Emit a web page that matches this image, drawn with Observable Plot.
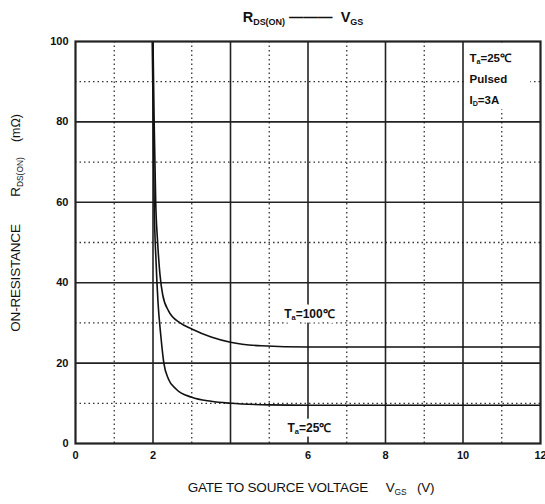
<!DOCTYPE html>
<html>
<head>
<meta charset="utf-8">
<script src="https://cdn.jsdelivr.net/npm/d3@7"></script>
<script src="https://cdn.jsdelivr.net/npm/@observablehq/plot@0.6"></script>
<style>
  html, body { margin: 0; padding: 0; background: #fff; }
  #chart svg { display: block; }
</style>
</head>
<body>
<div id="chart"></div>
<script>
// ---- data ----
const vgs25 = [1.98, 2.0, 2.03, 2.08, 2.13, 2.2, 2.28, 2.4, 2.6, 3.0, 3.5, 4.0, 5.0, 6.0, 8.0, 10.0, 12.0];
const r25   = [100, 85, 60, 45, 35, 27, 20, 16, 13.5, 11.5, 10.5, 10.0, 9.6, 9.5, 9.5, 9.5, 9.5];
const vgs100 = [2.0, 2.03, 2.07, 2.12, 2.18, 2.25, 2.4, 2.7, 3.0, 3.5, 4.0, 4.8, 6.0, 8.0, 10.0, 12.0];
const r100   = [100, 80, 60, 50, 42, 37, 33, 30, 28.5, 26.5, 25.2, 24.3, 24.0, 24.0, 24.0, 24.0];

const xTickValues = [0, 2, 6, 8, 10, 12];
const yTickValues = [0, 20, 40, 60, 80, 100];
const xMajor = [2, 4, 6, 8, 10];
const xMinor = [1, 3, 5, 7, 9, 11];
const yMajor = [20, 40, 60, 80];
const yMinor = [10, 30, 50, 70, 90];

const curveLabels = [
  {v: 6.05, r: 31, main: "T", sub: "a", rest: "=100\u2103"},
  {v: 6.05, r: 2.8, main: "T", sub: "a", rest: "=25\u2103"}
];
const conditionLines = [
  {main: "T", sub: "a", rest: "=25\u2103"},
  {main: "Pulsed", sub: "", rest: ""},
  {main: "I", sub: "D", rest: "=3A"}
];

const series25 = vgs25.map((v, i) => ({v, r: r25[i]}));
const series100 = vgs100.map((v, i) => ({v, r: r100[i]}));

const W = 545, H = 504;
const FONT = "'Liberation Sans', Arial, sans-serif";

const chart = Plot.plot({
  width: W,
  height: H,
  marginLeft: 75,
  marginRight: 5,
  marginTop: 41,
  marginBottom: 61,
  style: {fontFamily: FONT, fontSize: "11px", fontWeight: "bold", background: "#fff", color: "#111"},
  x: {domain: [0, 12], ticks: xTickValues, tickSize: 0, tickPadding: 8, label: null},
  y: {domain: [0, 100], ticks: yTickValues, tickSize: 0, tickPadding: 7, label: null},
  marks: [
    Plot.ruleX(xMinor, {stroke: "#333", strokeWidth: 1.3, strokeDasharray: "1.5,3"}),
    Plot.ruleY(yMinor, {stroke: "#333", strokeWidth: 1.3, strokeDasharray: "1.5,3"}),
    Plot.ruleX(xMajor, {stroke: "#222", strokeWidth: 1.6}),
    Plot.ruleY(yMajor, {stroke: "#222", strokeWidth: 1.6}),
    Plot.line(series100, {x: "v", y: "r", stroke: "#111", strokeWidth: 1.6, curve: "monotone-x", clip: true}),
    Plot.line(series25, {x: "v", y: "r", stroke: "#111", strokeWidth: 1.6, curve: "monotone-x", clip: true}),
    Plot.frame({stroke: "#222", strokeWidth: 2.2})
  ]
});

document.getElementById("chart").appendChild(chart);

const svg = d3.select(chart);
const sx = chart.scale("x"), sy = chart.scale("y");
const X = v => sx.apply(v), Y = v => sy.apply(v);

function richText(g, x, y, parts, opts, asHalo) {
  const t = g.append("text")
    .attr("x", x).attr("y", y)
    .attr("font-family", FONT)
    .attr("font-size", opts.size)
    .attr("font-weight", opts.weight || "normal")
    .attr("fill", asHalo ? "#fff" : "#111")
    .attr("text-anchor", opts.anchor || "start");
  if (asHalo) t.attr("stroke", "#fff").attr("stroke-width", opts.halo).attr("stroke-linejoin", "round");
  if (opts.rotate) t.attr("transform", `rotate(${opts.rotate},${x},${y})`);
  if (opts.spacing) t.attr("letter-spacing", opts.spacing);
  parts.forEach(p => {
    const ts = t.append("tspan").text(p.text);
    if (p.sub) ts.attr("font-size", opts.size * 0.62).attr("baseline-shift", "-35%");
  });
  return t;
}
function labelWithHalo(g, x, y, parts, opts) {
  richText(g, x, y, parts, opts, true);
  richText(g, x, y, parts, opts, false);
}

const g = svg.append("g");

// title
richText(g, 303, 22, [
  {text: "R"}, {text: "DS(ON)", sub: true}, {text: " \u2014\u2014\u2014  "}, {text: "V"}, {text: "GS", sub: true}
], {size: 14.5, anchor: "middle", weight: "bold"});

// x axis label
richText(g, 311, 492, [
  {text: "GATE TO SOURCE VOLTAGE"}, {text: "     V"}, {text: "GS", sub: true}, {text: "   (V)"}
], {size: 13.5, anchor: "middle", spacing: -0.2});

// y axis label (three pieces along the rotated axis)
richText(g, 20, 278, [{text: "ON-RESISTANCE"}], {size: 13.5, anchor: "middle", rotate: -90, spacing: -0.2});
richText(g, 20, 177, [{text: "R"}, {text: "DS(ON)", sub: true}], {size: 13.5, anchor: "middle", rotate: -90});
richText(g, 20, 128, [{text: "(m\u03a9)"}], {size: 12.5, anchor: "middle", rotate: -90});

// curve labels
curveLabels.forEach(d => {
  labelWithHalo(g, X(d.v), Y(d.r), [{text: d.main}, {text: d.sub, sub: true}, {text: d.rest}],
    {size: 12, anchor: "middle", weight: "bold", halo: 9});
});

// conditions box (top right)
g.append("rect")
  .attr("x", X(10) + 2).attr("y", Y(100) + 2)
  .attr("width", X(11.75) - X(10) - 2).attr("height", Y(83) - Y(100) - 2)
  .attr("fill", "#fff");
conditionLines.forEach((d, i) => {
  const parts = [{text: d.main}];
  if (d.sub) parts.push({text: d.sub, sub: true});
  if (d.rest) parts.push({text: d.rest});
  richText(g, X(10) + 7, Y(100) + 21 + i * 21, parts, {size: 11.5, weight: "bold"});
});
</script>
</body>
</html>
